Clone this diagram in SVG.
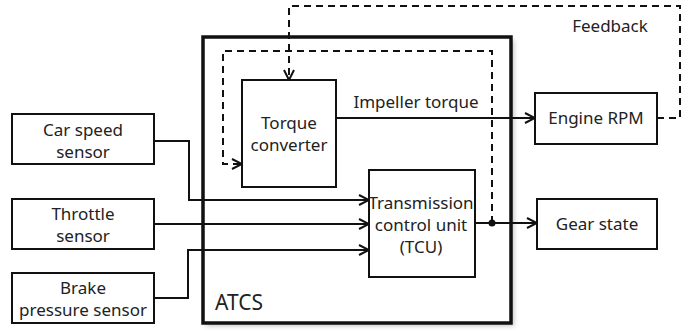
<svg xmlns="http://www.w3.org/2000/svg" width="699" height="333" viewBox="0 0 699 333">
<defs>
<style>
text{font-family:"Noto Sans","DejaVu Sans",sans-serif;font-size:17px;fill:#222;text-anchor:middle}
.box{fill:#fff;stroke:#111;stroke-width:2}
.ln{fill:none;stroke:#111;stroke-width:2}
.dash{fill:none;stroke:#111;stroke-width:2;stroke-dasharray:7 5}
</style>
<marker id="arr" viewBox="0 0 12 12" refX="11" refY="6" markerWidth="12" markerHeight="12" markerUnits="userSpaceOnUse" orient="auto">
<path d="M1,1 L11,6 L1,11" fill="none" stroke="#111" stroke-width="2"/>
</marker>
<filter id="sh" x="-10%" y="-10%" width="120%" height="120%"><feGaussianBlur stdDeviation="2.5"/></filter>
</defs>
<rect width="699" height="333" fill="#fff"/>
<g id="atcs">
<rect x="206" y="40" width="308" height="286" fill="#999" opacity="0.6" filter="url(#sh)"/>
<rect x="203" y="37" width="308" height="286" fill="#fff" stroke="#111" stroke-width="3.5"/>
<text x="215" y="310" style="text-anchor:start;font-size:21px">ATCS</text>
</g>
<g id="torque-converter">
<rect class="box" x="242" y="80" width="94" height="107"/>
<text x="289" y="129">Torque</text>
<text x="289" y="151">converter</text>
</g>
<g id="tcu">
<rect class="box" x="369" y="170" width="106" height="107"/>
<text x="421" y="209">Transmission</text>
<text x="421" y="231">control unit</text>
<text x="421" y="253">(TCU)</text>
</g>
<g id="engine-rpm">
<rect class="box" x="535" y="93" width="122" height="51"/>
<text x="596" y="124">Engine RPM</text>
</g>
<g id="gear-state">
<rect class="box" x="537" y="199" width="120" height="50"/>
<text x="597" y="230">Gear state</text>
</g>
<g id="car-speed-sensor">
<rect class="box" x="12" y="114" width="142" height="50"/>
<text x="83" y="136">Car speed</text>
<text x="83" y="158">sensor</text>
</g>
<g id="throttle-sensor">
<rect class="box" x="12" y="199" width="142" height="50"/>
<text x="83" y="220">Throttle</text>
<text x="83" y="242">sensor</text>
</g>
<g id="brake-pressure-sensor">
<rect class="box" x="12" y="273" width="142" height="50"/>
<text x="83" y="294">Brake</text>
<text x="83" y="316">pressure sensor</text>
</g>
<g id="connectors">
<path class="ln" d="M154,141 H189 V200 H369" marker-end="url(#arr)"/>
<path class="ln" d="M154,224 H369" marker-end="url(#arr)"/>
<path class="ln" d="M154,298 H188 V250 H369" marker-end="url(#arr)"/>
<path class="ln" d="M336,118 H535" marker-end="url(#arr)"/>
<text x="416" y="108">Impeller torque</text>
<path class="ln" d="M475,223 H537" marker-end="url(#arr)"/>
<circle cx="492" cy="223" r="3.5" fill="#111"/>
<path class="dash" d="M492,223 V51 H223 V164 H242" marker-end="url(#arr)"/>
<path class="dash" d="M657,118 H680 V6 H289 V80" marker-end="url(#arr)"/>
<text x="610" y="32">Feedback</text>
</g>
</svg>
